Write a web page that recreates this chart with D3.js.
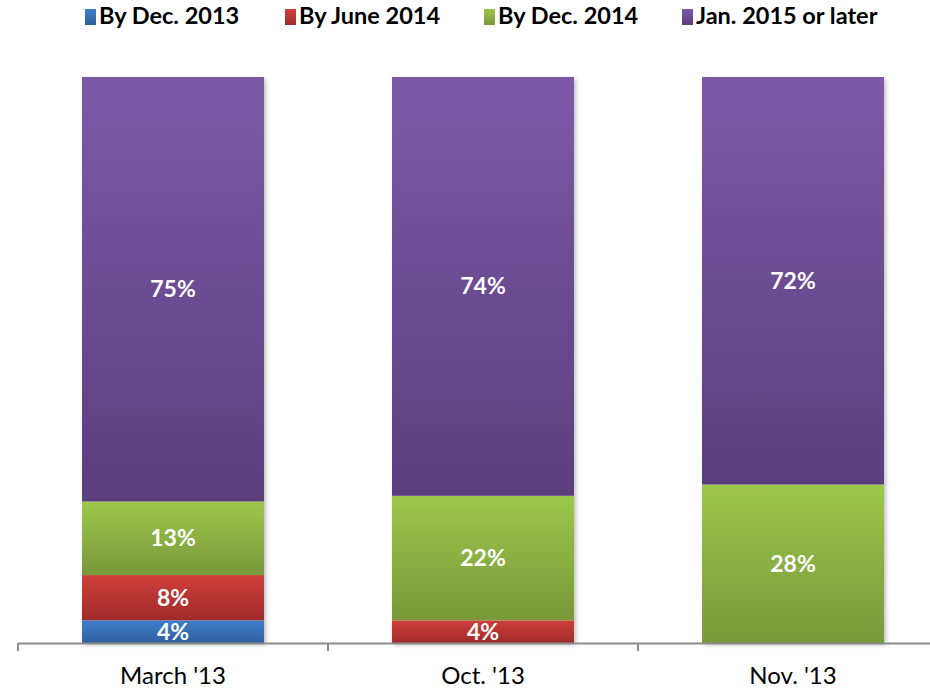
<!DOCTYPE html>
<html><head><meta charset="utf-8">
<script src="https://cdn.jsdelivr.net/npm/d3@7"></script>
<style>body{margin:0;background:#fff}svg{display:block}</style>
</head><body>
<svg id="c" width="930" height="689"></svg>
<script>
const categories = ["March '13", "Oct. '13", "Nov. '13"];
const seriesNames = ["By Dec. 2013", "By June 2014", "By Dec. 2014", "Jan. 2015 or later"];
const byDec2013 = [4, 0, 0];
const byJune2014 = [8, 4, 0];
const byDec2014 = [13, 22, 28];
const jan2015Later = [75, 74, 72];
const colorsTop = ["#3f7ecb", "#cf3e3b", "#9dc74b", "#7c59a7"];
const colorsBot = ["#2f609f", "#9f2b2a", "#78983a", "#5b3e7e"];

const seriesValues = [byDec2013, byJune2014, byDec2014, jan2015Later];
const svg = d3.select("#c");
const font = "Lato, 'Open Sans', sans-serif";

const x = d3.scaleBand().domain(categories).range([18, 948]).paddingInner(0).paddingOuter(0);
const y = d3.scaleLinear().domain([0, 100]).range([643, 77]);
const barW = x.bandwidth() * 0.587;

const defs = svg.append("defs");
seriesNames.forEach((s, i) => {
  const g = defs.append("linearGradient").attr("id", "g" + i).attr("x1", 0).attr("y1", 0).attr("x2", 0).attr("y2", 1);
  g.append("stop").attr("offset", "0%").attr("stop-color", colorsTop[i]);
  g.append("stop").attr("offset", "100%").attr("stop-color", colorsBot[i]);
});
const f = defs.append("filter").attr("id", "sh").attr("x", "-10%").attr("y", "-10%").attr("width", "130%").attr("height", "130%");
f.append("feDropShadow").attr("dx", 2).attr("dy", 2).attr("stdDeviation", 2).attr("flood-color", "#000").attr("flood-opacity", 0.25);

const rows = categories.map((c, ci) => {
  const o = {cat: c};
  seriesNames.forEach((s, si) => o[s] = seriesValues[si][ci]);
  return o;
});
const stack = d3.stack().keys(seriesNames)(rows);

const barsG = svg.append("g");
barsG.selectAll("rect.bg").data(rows).join("rect")
  .attr("x", d => x(d.cat) + (x.bandwidth() - barW) / 2)
  .attr("y", y(100)).attr("width", barW).attr("height", y(0) - y(100))
  .attr("fill", "#fff").attr("filter", "url(#sh)");

stack.forEach((layer, si) => {
  const g = barsG.append("g");
  g.selectAll("rect").data(layer.filter(d => d[1] - d[0] > 0)).join("rect")
    .attr("x", d => x(d.data.cat) + (x.bandwidth() - barW) / 2)
    .attr("y", d => y(d[1]))
    .attr("width", barW)
    .attr("height", d => y(d[0]) - y(d[1]))
    .attr("fill", "url(#g" + si + ")");
  g.selectAll("text").data(layer.filter(d => d[1] - d[0] > 0)).join("text")
    .attr("x", d => x(d.data.cat) + x.bandwidth() / 2)
    .attr("y", d => (y(d[0]) + y(d[1])) / 2 + 2)
    .attr("text-anchor", "middle").attr("dominant-baseline", "middle")
    .attr("fill", "#fff").attr("font-family", font).attr("font-weight", "bold").attr("font-size", 23)
    .text(d => (d[1] - d[0]) + "%");
});

// axis
const axis = d3.axisBottom(x).tickSize(0).tickPadding(24);
const ax = svg.append("g").attr("transform", "translate(0,643)").call(axis);
ax.select(".domain").attr("stroke", "#8c8c8c").attr("stroke-width", 2);
ax.selectAll("text").attr("font-family", font).attr("font-size", 24).attr("fill", "#000");
const tickPos = categories.map(c => x(c)).concat([x.range()[1]]);
svg.append("g").selectAll("line").data(tickPos).join("line")
  .attr("x1", d => d).attr("x2", d => d).attr("y1", 643).attr("y2", 651)
  .attr("stroke", "#8c8c8c").attr("stroke-width", 2);

// legend
const legX = [85, 285, 484, 682];
const leg = svg.append("g").selectAll("g").data(seriesNames).join("g")
  .attr("transform", (d, i) => `translate(${legX[i]},9)`);
leg.append("rect").attr("width", 11).attr("height", 16).attr("fill", (d, i) => `url(#g${i})`);
leg.append("text").attr("x", 14).attr("y", 9).attr("dominant-baseline", "middle")
  .attr("font-family", font).attr("font-weight", "bold").attr("font-size", 23.5).attr("fill", "#000")
  .text(d => d);
</script>
</body></html>
